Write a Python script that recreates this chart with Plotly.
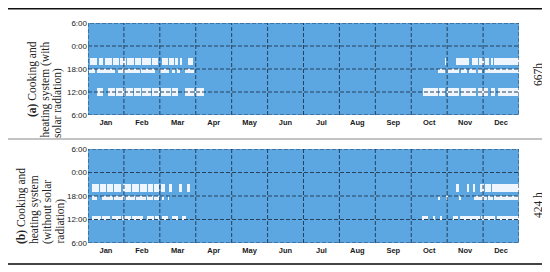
import numpy as np
import plotly.graph_objects as go

months = ["Jan", "Feb", "Mar", "Apr", "May", "Jun",
          "Jul", "Aug", "Sep", "Oct", "Nov", "Dec"]
hour_ticks = ["6:00", "12:00", "18:00", "0:00", "6:00"]

# days (0-based, inclusive) on which the system runs, per hour band
a_evening = [(2, 7), (9, 12), (14, 19), (21, 25), (27, 31), (33, 38), (40, 44),
             (46, 52), (54, 58), (63, 67), (69, 72), (74, 75), (78, 79), (85, 88),
             (302, 302), (312, 322), (325, 329), (331, 334), (336, 339),
             (341, 342), (344, 364)]
a_dinner = [(1, 5), (8, 22), (25, 43), (45, 56), (60, 68), (71, 73), (75, 77),
            (82, 89), (296, 301), (304, 313), (316, 320), (323, 328),
            (330, 333), (336, 364)]
a_noon = [(8, 12), (17, 22), (24, 30), (32, 37), (39, 44), (46, 52), (54, 60),
          (62, 69), (71, 75), (82, 89), (91, 97), (284, 295), (297, 301),
          (304, 313), (316, 328), (330, 338), (341, 344), (347, 364)]

b_evening = [(3, 8), (10, 14), (16, 20), (22, 27), (30, 35), (37, 42), (44, 49),
             (51, 54), (56, 59), (62, 64), (69, 70), (77, 79), (84, 85),
             (312, 313), (321, 322), (326, 327), (332, 334), (336, 340),
             (342, 364)]
b_dinner = [(3, 7), (12, 20), (22, 30), (32, 39), (41, 48), (50, 54), (56, 59),
            (63, 63), (68, 68), (296, 297), (303, 304), (314, 315), (327, 337),
            (339, 342), (344, 364)]
b_noon = [(3, 10), (12, 18), (20, 27), (29, 35), (37, 46), (50, 55), (57, 59),
          (63, 67), (71, 75), (80, 82), (283, 287), (292, 293), (298, 299),
          (309, 312), (315, 331), (333, 344), (346, 364)]

bands_a = {(19, 20): a_evening, (17,): a_dinner, (11, 12): a_noon}
bands_b = {(19, 20): b_evening, (17,): b_dinner, (12,): b_noon}

label_a = ["<b>(a)</b> Cooking and", "heating system (with", "solar radiation)"]
label_b = ["<b>(b)</b> Cooking and", "heating system", "(without solar",
           "radiation)"]
totals = ["667h", "424 h"]

N_DAYS = 365
BLUE = "#5ca7e2"
GRID = "#27405c"

# the page adds an 8px body margin, so the figure is drawn 8px in
W, H, OFF = 542, 264, 8


def px(x):
    return (x - OFF) / W


def py(y):
    return 1 - (y - OFF) / H


def build_z(bands):
    z = np.zeros((24, N_DAYS))
    for hours, spans in bands.items():
        for h in hours:
            row = (h - 6) % 24
            for d0, d1 in spans:
                z[row, d0:d1 + 1] = 1
    return z


fig = go.Figure()
days = np.arange(N_DAYS) + 0.5
rows = np.arange(24) + 0.5
domains = [[py(115), py(23)], [py(243), py(149)]]
month_w = N_DAYS / 12
xfont = dict(size=7.5, color="#1a1a1a", family="Liberation Sans", weight="bold")
yfont = dict(size=8, color="#1a1a1a", family="Liberation Sans")

for i, bands in enumerate([bands_a, bands_b]):
    sfx = "" if i == 0 else "2"
    xr, yr = "x" + sfx, "y" + sfx
    fig.add_trace(go.Heatmap(
        z=build_z(bands), x=days, y=rows, xaxis=xr, yaxis=yr,
        colorscale=[[0, BLUE], [1, "#eef5fc"]], zmin=0, zmax=1,
        showscale=False, hoverinfo="skip",
    ))
    fig.update_layout(**{
        "xaxis" + sfx: dict(domain=[px(88), px(519)], range=[0, N_DAYS],
                            tickvals=[(k + 0.5) * month_w for k in range(12)],
                            ticktext=months, showgrid=False, zeroline=False,
                            ticks="", tickfont=xfont, ticklabelstandoff=1,
                            automargin=False, anchor=yr),
        "yaxis" + sfx: dict(domain=domains[i], range=[0, 24],
                            tickvals=[0, 6, 12, 18, 24], ticktext=hour_ticks,
                            showgrid=False, zeroline=False, ticks="",
                            tickfont=yfont, automargin=False, anchor=xr),
    })
    line = dict(color=GRID, width=1, dash="4px,2px")
    for k in range(1, 12):
        fig.add_shape(type="line", xref=xr, yref=yr, x0=k * month_w,
                      x1=k * month_w, y0=0, y1=24, line=line, layer="above")
    for v in [6, 12, 18]:
        fig.add_shape(type="line", xref=xr, yref=yr, x0=0, x1=N_DAYS,
                      y0=v, y1=v, line=line, layer="above")
    fig.add_shape(type="rect", xref=xr, yref=yr, x0=0, x1=N_DAYS, y0=0, y1=24,
                  line=line, layer="above")

# table rules
for y, c, w in [(8.8, "#111", 1.5), (139, "#888", 1), (264, "#444", 2)]:
    fig.add_shape(type="line", xref="paper", yref="paper", x0=0, x1=px(543),
                  y0=py(y), y1=py(y), line=dict(color=c, width=w))

serif = dict(family="Liberation Serif", size=11.5, color="#222")


def side_text(text, x, y, yanchor):
    fig.add_annotation(text=text, xref="paper", yref="paper", x=px(x),
                       y=py(y), xanchor="center", yanchor=yanchor,
                       textangle=-90, showarrow=False, font=serif)


# panel (a): first line hangs from the top, the others start at the bottom
side_text(label_a[0], 32, 39, "top")
side_text(label_a[1], 44.5, 140, "bottom")
side_text(label_a[2], 57, 140, "bottom")
for t, x in zip(label_b, [21, 34.5, 47, 60]):
    side_text(t, x, 246, "bottom")

side_text(totals[0], 538, 75, "middle")
side_text(totals[1], 538, 205, "middle")

fig.update_layout(width=W, height=H, margin=dict(l=0, r=0, t=0, b=0),
                  paper_bgcolor="white", plot_bgcolor="white",
                  showlegend=False)

fig.write_html("out.html")
